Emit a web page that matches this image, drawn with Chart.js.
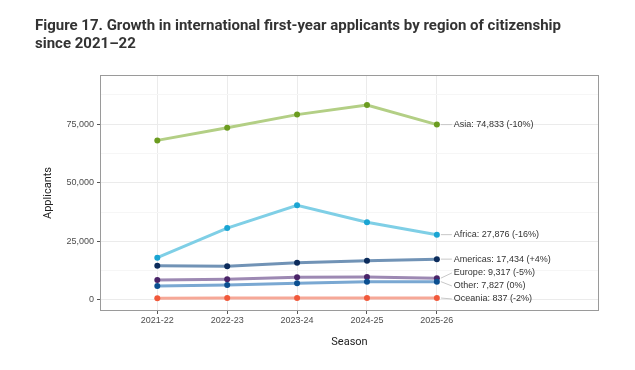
<!DOCTYPE html>
<html>
<head>
<meta charset="utf-8">
<script src="https://cdn.jsdelivr.net/npm/chart.js@4.4.1/dist/chart.umd.min.js"></script>
<style>
  html, body { margin: 0; padding: 0; background: #fff; }
  #wrap { position: relative; width: 635px; height: 370px; }
  #title { position: absolute; left: 35px; top: 16px; font-family: Roboto, "Liberation Sans", sans-serif; font-weight: 700; font-size: 15px; line-height: 18px; color: #333; white-space: nowrap; }
  canvas { position: absolute; left: 0; top: 0; }
</style>
</head>
<body>
<div id="wrap">
  <canvas id="c" width="635" height="370"></canvas>
  <div id="title">Figure 17. Growth in international first-year applicants by region of citizenship<br>since 2021–22</div>
</div>
<script>
const seasons = ["2021-22", "2022-23", "2023-24", "2024-25", "2025-26"];
const regions = ["Asia", "Africa", "Americas", "Europe", "Other", "Oceania"];
const asia     = [68100, 73500, 79100, 83150, 74833];
const africa   = [18050, 30700, 40400, 33190, 27876];
const americas = [14650, 14400, 15900, 16760, 17434];
const europe   = [8550, 8800, 9650, 9810, 9317];
const other    = [6000, 6400, 7100, 7827, 7827];
const oceania  = [760, 820, 880, 854, 837];
const changes  = ["-10%", "-16%", "+4%", "-5%", "0%", "-2%"];
const yTicks   = [0, 12500, 25000, 37500, 50000, 62500, 75000, 87500];
const yMajor   = [0, 25000, 50000, 75000];

const seriesValues = [asia, africa, americas, europe, other, oceania];
const lineColors  = ["#b3cf85", "#7fcfe6", "#7193b6", "#9d89b3", "#7aa8d2", "#f6a897"];
const pointColors = ["#6b9c1f", "#1aa5d3", "#0c2c5c", "#4a2468", "#0b4f90", "#f1593b"];

const datasets = regions.map((r, i) => ({
  label: r,
  data: seriesValues[i].map((v, j) => ({ x: j, y: v })),
  borderColor: lineColors[i],
  backgroundColor: pointColors[i],
  pointBackgroundColor: pointColors[i],
  pointBorderWidth: 0,
  pointRadius: 3,
  borderWidth: 3,
  tension: 0
}));
datasets.reverse();

const fmt = v => v.toLocaleString("en-US");

const endLabels = {
  id: "endLabels",
  afterDatasetsDraw(chart) {
    const ctx = chart.ctx;
    const xs = chart.scales.x, ys = chart.scales.y;
    const last = seasons.length - 1;
    const items = regions.map((r, i) => {
      const v = seriesValues[i][last];
      const py = ys.getPixelForValue(v);
      return { text: r + ": " + fmt(v) + " (" + changes[i] + ")", px: xs.getPixelForValue(last), py, ly: py };
    });
    items.sort((a, b) => a.py - b.py);
    const gap = 13;
    for (let it = 0; it < 50; it++) {
      for (let k = 0; k < items.length - 1; k++) {
        const a = items[k], b = items[k + 1];
        const d = b.ly - a.ly;
        if (d < gap) {
          const push = (gap - d) / 2;
          a.ly -= push; b.ly += push;
        }
      }
    }
    ctx.save();
    ctx.font = "9px 'Liberation Sans', Arial, sans-serif";
    ctx.textBaseline = "middle";
    ctx.textAlign = "left";
    items.forEach(o => {
      ctx.strokeStyle = "#c8c8c8";
      ctx.lineWidth = 1;
      ctx.beginPath();
      ctx.moveTo(o.px + 4, o.py);
      ctx.lineTo(o.px + 15, o.ly);
      ctx.stroke();
      ctx.fillStyle = "#333";
      ctx.fillText(o.text, o.px + 17, o.ly);
    });
    ctx.restore();
  }
};

const frame = {
  id: "frame",
  afterDraw(chart) {
    const a = chart.chartArea, ctx = chart.ctx;
    ctx.save();
    ctx.strokeStyle = "#9a9a9a";
    ctx.lineWidth = 1;
    ctx.strokeRect(Math.round(a.left) + 0.5, Math.round(a.top) + 0.5, Math.round(a.right - a.left) - 1, Math.round(a.bottom - a.top) - 1);
    ctx.restore();
  }
};

new Chart(document.getElementById("c"), {
  type: "line",
  data: { datasets },
  plugins: [endLabels, frame],
  options: {
    responsive: false,
    animation: false,
    layout: { padding: { top: 75, right: 36, bottom: 0, left: 0 } },
    plugins: { legend: { display: false }, tooltip: { enabled: false }, title: { display: false } },
    scales: {
      x: {
        type: "linear",
        min: -0.82,
        max: 6.32,
        afterBuildTicks: s => { s.ticks = seasons.map((_, i) => ({ value: i })); },
        afterFit: s => { s.height = 59; },
        ticks: {
          callback: v => seasons[v] ?? "",
          font: { family: "'Liberation Sans', Arial, sans-serif", size: 9 },
          color: "#4d4d4d",
          padding: 1,
          maxRotation: 0,
          autoSkip: false
        },
        grid: { color: "#ebebeb", lineWidth: 1, tickLength: 3, tickColor: "#555" },
        border: { display: false },
        title: {
          display: true, text: "Season",
          font: { family: "Roboto, 'Liberation Sans', sans-serif", size: 11 },
          color: "#222",
          padding: { top: 0, bottom: 21 }
        }
      },
      y: {
        min: -4700,
        max: 96000,
        afterBuildTicks: s => { s.ticks = yTicks.map(v => ({ value: v })); },
        afterFit: s => { s.width = 100; },
        ticks: {
          callback: v => yMajor.includes(v) ? fmt(v) : "",
          font: { family: "'Liberation Sans', Arial, sans-serif", size: 9 },
          color: "#4d4d4d",
          padding: 3,
          autoSkip: false
        },
        grid: {
          color: c => yMajor.includes(c.tick && c.tick.value) ? "#ebebeb" : "#f6f6f6",
          tickColor: c => yMajor.includes(c.tick && c.tick.value) ? "#555" : "rgba(0,0,0,0)",
          lineWidth: 1, tickLength: 3
        },
        border: { display: false },
        title: {
          display: true, text: "Applicants",
          font: { family: "Roboto, 'Liberation Sans', sans-serif", size: 11 },
          color: "#222",
          padding: { top: 42, bottom: 0 }
        }
      }
    }
  }
});
</script>
</body>
</html>
